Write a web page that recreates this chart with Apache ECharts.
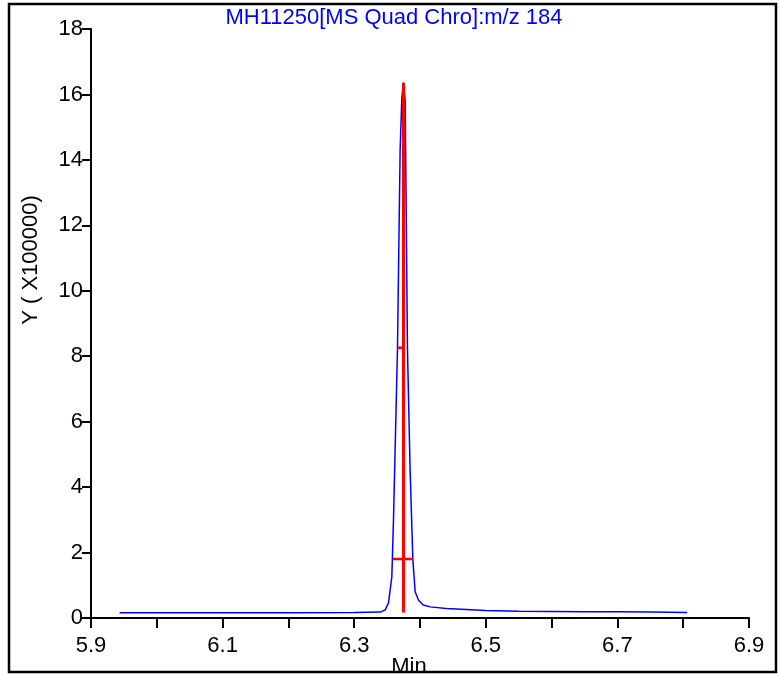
<!DOCTYPE html>
<html>
<head>
<meta charset="utf-8">
<title>MH11250 m/z 184</title>
<script src="https://cdn.jsdelivr.net/npm/echarts@6/dist/echarts.min.js"></script>
<style>
  html, body { margin: 0; padding: 0; background: #ffffff; }
  #chart { width: 779px; height: 677px; }
</style>
</head>
<body>
<div id="chart"></div>
<script>
// Retention time (min) and intensity (x100000) of the m/z 184 trace
const times = [
  5.9435, 6.00, 6.10, 6.20, 6.30, 6.340, 6.3471, 6.3521, 6.3572, 6.3597,
  6.3658, 6.3698, 6.3724, 6.3749, 6.3775, 6.3809, 6.3850, 6.3891, 6.3926,
  6.3976, 6.4048, 6.4155, 6.44, 6.47, 6.50, 6.55, 6.60, 6.65, 6.70, 6.75, 6.806
];
const intensity = [
  0.16, 0.16, 0.16, 0.16, 0.17, 0.18, 0.25, 0.46, 1.26, 3.00,
  8.26, 14.30, 15.90, 16.36, 15.80, 8.26, 4.50, 1.80, 0.80,
  0.55, 0.40, 0.34, 0.29, 0.26, 0.23, 0.21, 0.20, 0.19, 0.19, 0.18, 0.17
];

// Peak markers: apex drop line, half-height tick, width at 10% height
const apexLine = [[6.3749, 0.17], [6.3749, 16.36]];
const halfHeightTick = [[6.3658, 8.26], [6.3749, 8.26]];
const baseWidthLine = [[6.3588, 1.80], [6.3891, 1.80]];

// Axis ranges
const xMin = 5.9, xMax = 6.9, xStep = 0.1;
const yMin = 0, yMax = 18, yStep = 2;

const titleText = 'MH11250[MS Quad Chro]:m/z 184';
const yName = 'Y ( X100000)';
const xName = 'Min';

const FONT = 'Liberation Sans, Arial, sans-serif';
const FONT_SIZE = 22;

const chart = echarts.init(document.getElementById('chart'), null, { renderer: 'canvas' });

const traceData = times.map((t, i) => [t, intensity[i]]);

function redSegment(data, width) {
  return {
    type: 'line',
    data: data,
    symbol: 'none',
    silent: true,
    z: 5,
    lineStyle: { color: '#ff0000', width: width },
    animation: false
  };
}

chart.setOption({
  animation: false,
  backgroundColor: '#ffffff',
  grid: { left: 91, right: 30, top: 29, bottom: 59, containLabel: false },
  xAxis: {
    type: 'value',
    min: xMin, max: xMax, interval: xStep,
    axisLine: { lineStyle: { color: '#000000', width: 2 } },
    axisTick: { show: true, length: 10, inside: false, lineStyle: { color: '#000000', width: 2 } },
    splitLine: { show: false },
    axisLabel: {
      color: '#000000', fontFamily: FONT, fontSize: FONT_SIZE, margin: 17,
      formatter: function (v) {
        const k = Math.round(v * 10);
        return (k % 2 === 1) ? (k / 10).toFixed(1) : '';
      }
    }
  },
  yAxis: {
    type: 'value',
    min: yMin, max: yMax, interval: yStep,
    axisLine: { show: true, lineStyle: { color: '#000000', width: 2 } },
    axisTick: { show: true, length: 9, inside: false, lineStyle: { color: '#000000', width: 2 } },
    splitLine: { show: false },
    axisLabel: {
      color: '#000000', fontFamily: FONT, fontSize: FONT_SIZE, margin: 8,
      padding: [6, 0, 0, 0]
    }
  },
  series: [
    {
      type: 'line',
      data: traceData,
      symbol: 'none',
      z: 3,
      lineStyle: { color: '#0000ff', width: 1.5 },
      animation: false
    },
    redSegment(apexLine, 3),
    redSegment(halfHeightTick, 2.5),
    redSegment(baseWidthLine, 2.5)
  ],
  graphic: [
    {
      type: 'text', x: 394, y: 18,
      style: { text: titleText, fill: '#0000ff', font: FONT_SIZE + 'px ' + FONT, textAlign: 'center', textVerticalAlign: 'middle' }
    },
    {
      type: 'text', x: 31, y: 260, rotation: Math.PI / 2,
      style: { text: yName, fill: '#000000', font: FONT_SIZE + 'px ' + FONT, textAlign: 'center', textVerticalAlign: 'middle' }
    },
    {
      type: 'text', x: 409, y: 656,
      style: { text: xName, fill: '#000000', font: FONT_SIZE + 'px ' + FONT, textAlign: 'center', textVerticalAlign: 'top' }
    },
    {
      type: 'rect', z: 100,
      shape: { x: 9, y: 4, width: 767, height: 668 },
      style: { fill: null, stroke: '#000000', lineWidth: 2.5 }
    },
    {
      type: 'rect', z: 99,
      shape: { x: 0, y: 673, width: 779, height: 4 },
      style: { fill: '#ffffff' }
    }
  ]
});
</script>
</body>
</html>
